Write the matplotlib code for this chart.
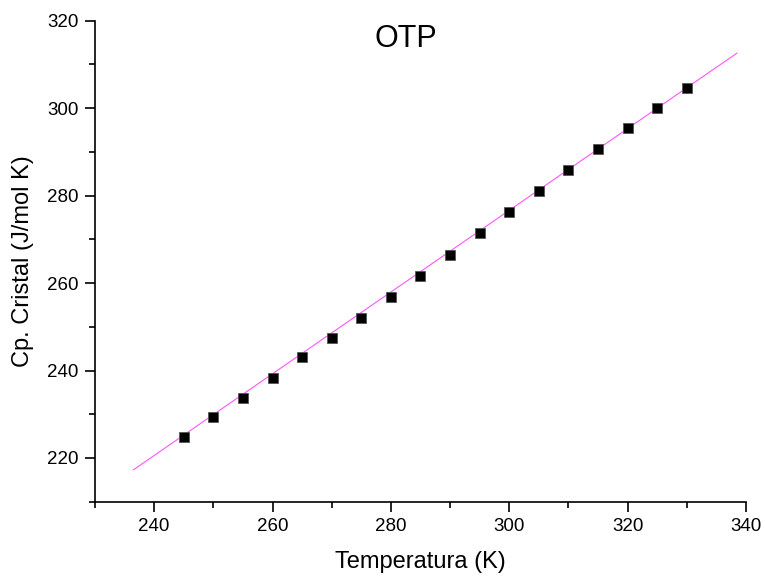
import numpy as np
import matplotlib.pyplot as plt
from matplotlib.ticker import MultipleLocator

plt.rcParams['font.family'] = ['Liberation Sans', 'DejaVu Sans']

# measured points
temp = [245, 250, 255, 260, 265, 270, 275, 280, 285, 290,
        295, 300, 305, 310, 315, 320, 325, 330]
cp = [224.7, 229.3, 233.8, 238.4, 243.0, 247.5, 252.1, 256.9, 261.7, 266.5,
      271.4, 276.2, 281.0, 285.8, 290.6, 295.4, 300.1, 304.7]

# linear fit line ends
fit_x = [236.5, 338.5]
fit_y = [217.3, 312.6]

fig = plt.figure(figsize=(7.65, 5.77), dpi=100)
ax = fig.add_axes([0.1242, 0.1305, 0.8508, 0.8336])

ax.plot(fit_x, fit_y, color='#ff55ff', lw=0.8, zorder=2)
ax.plot(temp, cp, 's', color='black', markersize=6.5,
        markeredgecolor='#555555', markeredgewidth=0.6, zorder=3)

ax.set_xlim(230, 340)
ax.set_ylim(210, 320)
ax.xaxis.set_major_locator(MultipleLocator(20))
ax.xaxis.set_minor_locator(MultipleLocator(10))
ax.yaxis.set_major_locator(MultipleLocator(20))
ax.yaxis.set_minor_locator(MultipleLocator(10))

for s in ['top', 'right']:
    ax.spines[s].set_visible(False)
for s in ['left', 'bottom']:
    ax.spines[s].set_linewidth(1.2)

ax.tick_params(which='major', direction='out', length=7, width=1.2,
               labelsize=13.5, pad=5)
ax.tick_params(which='minor', direction='out', length=4, width=1.2)

ax.set_xlabel('Temperatura (K)', fontsize=17, labelpad=11)
ax.set_ylabel('Cp. Cristal (J/mol K)', fontsize=17, labelpad=9)

fig.text(406 / 765, 1 - 39 / 577, 'OTP', fontsize=22, ha='center', va='center')

plt.savefig('out.png')
